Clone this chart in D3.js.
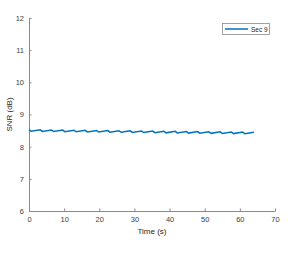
<!DOCTYPE html>
<html>
<head>
<meta charset="utf-8">
<script src="https://cdn.jsdelivr.net/npm/d3@7"></script>
<style>
  body { margin: 0; background: #fff; }
  svg text { font-family: "Liberation Sans", Arial, sans-serif; }
</style>
</head>
<body>
<div id="chart"></div>
<script>
// sawtooth SNR trace
const times = [0, 0.6, 3.2, 3.8, 6.4, 7.0, 9.6, 10.2, 12.8, 13.4, 16.0, 16.6, 19.2, 19.8,
  22.4, 23.0, 25.6, 26.2, 28.8, 29.4, 32.0, 32.6, 35.2, 35.8, 38.4, 39.0, 41.6, 42.2,
  44.8, 45.4, 48.0, 48.6, 51.2, 51.8, 54.4, 55.0, 57.6, 58.2, 60.8, 61.4, 64.0];
const snr = [8.53, 8.48, 8.525, 8.475, 8.52, 8.47, 8.516, 8.466, 8.512, 8.462, 8.508, 8.458,
  8.504, 8.454, 8.50, 8.45, 8.496, 8.446, 8.492, 8.442, 8.488, 8.438, 8.484, 8.434,
  8.48, 8.43, 8.476, 8.426, 8.472, 8.422, 8.468, 8.418, 8.464, 8.414, 8.46, 8.41,
  8.456, 8.406, 8.452, 8.402, 8.448];
const xTicks = [0, 10, 20, 30, 40, 50, 60, 70];
const yTicks = [6, 7, 8, 9, 10, 11, 12];
const seriesName = 'Sec 9';

const W = 293, H = 258;
const m = { top: 18, right: 18, bottom: 47, left: 29 };
const w = W - m.left - m.right, h = H - m.top - m.bottom;

const svg = d3.select('#chart').append('svg')
  .attr('width', W).attr('height', H);
const g = svg.append('g').attr('transform', `translate(${m.left},${m.top})`);

const x = d3.scaleLinear().domain([0, 70]).range([0, w]);
const y = d3.scaleLinear().domain([6, 12]).range([h, 0]);

// axes, ticks pointing inwards like matlab
const xAxis = g.append('g').attr('transform', `translate(0,${h})`)
  .call(d3.axisBottom(x).tickValues(xTicks).tickFormat(d3.format('d'))
    .tickSizeInner(-2.5).tickSizeOuter(0).tickPadding(6));
const yAxis = g.append('g')
  .call(d3.axisLeft(y).tickValues(yTicks).tickFormat(d3.format('d'))
    .tickSizeInner(-2.5).tickSizeOuter(0).tickPadding(5));
[xAxis, yAxis].forEach(a => {
  a.select('.domain').attr('stroke', '#8a8a8a');
  a.selectAll('.tick line').attr('stroke', '#8a8a8a');
  a.selectAll('.tick text').attr('fill', '#404040').style('font-size', '7.5px')
    .style('font-family', '"Liberation Sans", Arial, sans-serif');
});

g.append('text')
  .attr('x', w / 2).attr('y', h + 23)
  .attr('text-anchor', 'middle')
  .style('font-size', '8px').attr('fill', '#262626')
  .text('Time (s)');
g.append('text')
  .attr('transform', `translate(-17,${h / 2}) rotate(-90)`)
  .attr('text-anchor', 'middle')
  .style('font-size', '8px').attr('fill', '#262626')
  .text('SNR (dB)');

const pts = times.map((t, i) => [t, snr[i]]);
g.append('path')
  .datum(pts)
  .attr('fill', 'none')
  .attr('stroke', '#0072BD')
  .attr('stroke-width', 1.5)
  .attr('d', d3.line().x(d => x(d[0])).y(d => y(d[1])));

// legend
const lg = svg.append('g').attr('transform', 'translate(222,23)');
lg.append('rect').attr('x', 0.5).attr('y', 0.5).attr('width', 47).attr('height', 11)
  .attr('fill', '#fff').attr('stroke', '#8a8a8a').attr('stroke-width', 0.8);
lg.append('line').attr('x1', 3).attr('x2', 26).attr('y1', 6).attr('y2', 6)
  .attr('stroke', '#0072BD').attr('stroke-width', 1.5);
lg.append('text').attr('x', 29).attr('y', 8.5)
  .style('font-size', '6.5px').attr('fill', '#262626')
  .text(seriesName);
</script>
</body>
</html>
